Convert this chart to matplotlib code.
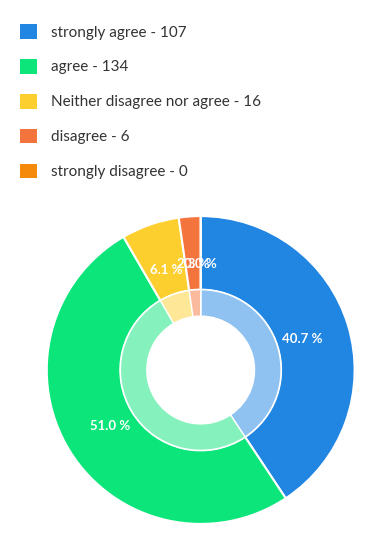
import matplotlib.pyplot as plt
from matplotlib.patches import Patch
from matplotlib.colors import to_rgb

plt.rcParams['font.family'] = ['Lato', 'DejaVu Sans']

labels = ['strongly agree', 'agree', 'Neither disagree nor agree', 'disagree', 'strongly disagree']
counts = [107, 134, 16, 6, 0]
colors = ['#2185e2', '#0be57a', '#fccf2f', '#f4743d', '#f58a0a']

def lighten(c, a=0.5):
    r, g, b = to_rgb(c)
    return (1 - a + a * r, 1 - a + a * g, 1 - a + a * b)

fig = plt.figure(figsize=(3.91, 5.45), dpi=100)

# donut
ax = fig.add_axes([43.7 / 391, 18 / 545, 314 / 391, 314 / 545])
ax.pie(counts, colors=colors, startangle=90, counterclock=False, radius=1,
       autopct='%.1f %%', pctdistance=0.69,
       textprops=dict(color='white', fontsize=9.5, fontweight='bold'),
       wedgeprops=dict(width=0.478, edgecolor='white', linewidth=1.5))
ax.pie(counts, colors=[lighten(c) for c in colors], startangle=90, counterclock=False,
       radius=0.522, wedgeprops=dict(width=0.172, edgecolor='white', linewidth=1))
ax.set_xlim(-1.02, 1.02)
ax.set_ylim(-1.02, 1.02)
ax.set_aspect('equal')
ax.axis('off')

# legend
handles = [Patch(facecolor=c, edgecolor='none') for c in colors]
leg_labels = [f'{l} - {n}' for l, n in zip(labels, counts)]
fig.legend(handles, leg_labels, loc='upper left', bbox_to_anchor=(20 / 391, 1 - 24 / 545),
           frameon=False, borderpad=0, borderaxespad=0, fontsize=11,
           handlelength=1.1, handleheight=1.1, handletextpad=0.9, labelspacing=1.27,
           labelcolor='#333333')

fig.savefig('out.png', dpi=100, facecolor='white')
